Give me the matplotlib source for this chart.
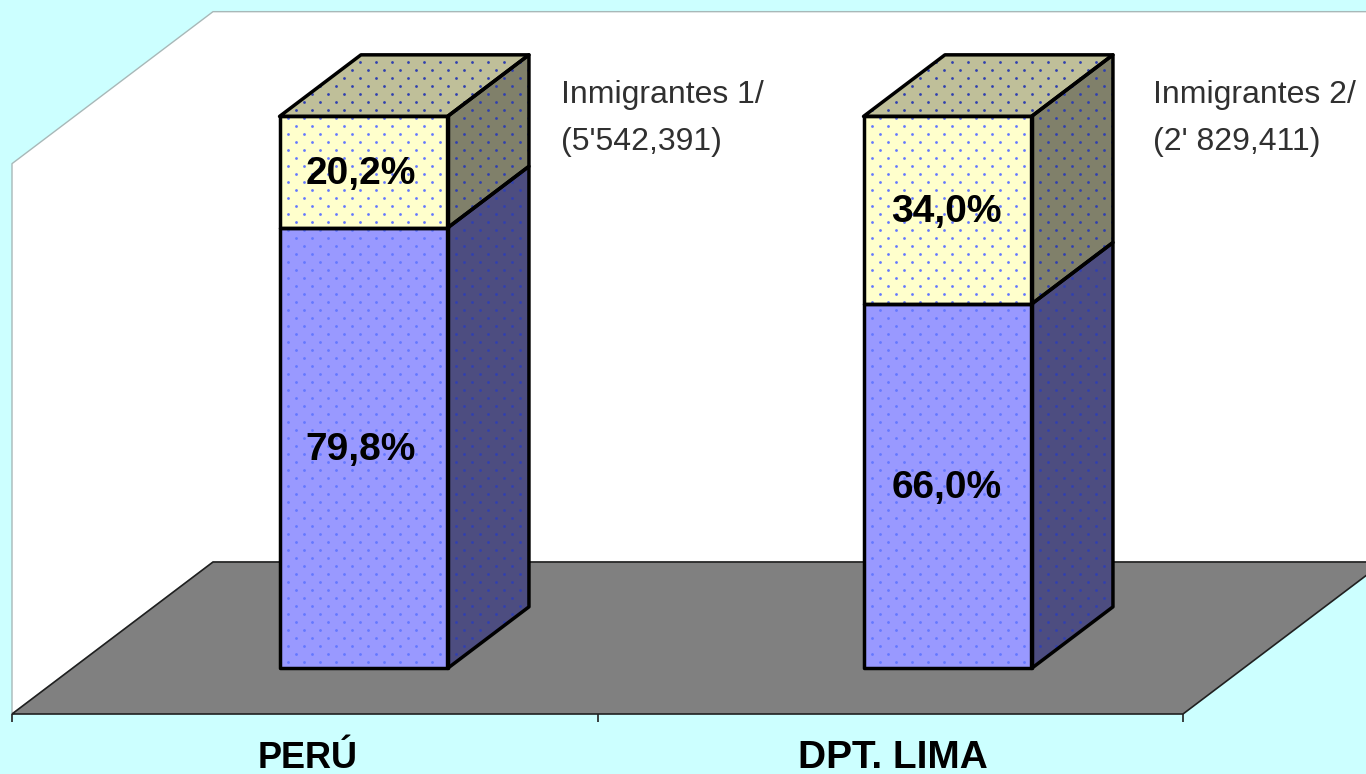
#!/usr/bin/env python
# coding: utf-8

import numpy as np
from matplotlib import pyplot as plt
from matplotlib.patches import Polygon

plt.rcParams['font.family'] = ['Liberation Sans', 'DejaVu Sans']

# Data
categories = ['PERÚ', 'DPT. LIMA']
lower_pct = [79.8, 66.0]
upper_pct = [20.2, 34.0]
lower_labels = ['79,8%', '66,0%']
upper_labels = ['20,2%', '34,0%']
note_lines = [['Inmigrantes 1/', "(5'542,391)"], ['Inmigrantes 2/', "(2' 829,411)"]]

# colours
bg = '#CCFFFF'
floor_col = '#808080'
blue_front, blue_side = '#9999FF', '#4D4D80'
yel_front, yel_side, yel_top = '#FFFFCC', '#80806A', '#BFBF99'

# sizes of the fake 3D box, in pixels of the 1366x774 canvas
W, H = 1366, 774
px_cat = 585.5   # pixels per category
px_pct = 5.52    # pixels per percent
x0_px, y0_px = 12, 714   # front left corner of the floor
depth_dx = 201 / px_cat
depth_dy = 152 / px_pct
bar_w = 168 / px_cat
bar_shift = [-1.5 / px_cat, -3 / px_cat]
d_front, d_back = 0.30, 0.705
cat_sizes = [26, 28]

fig = plt.figure(figsize=(W / 100, H / 100), dpi=100, facecolor=bg)
ax = fig.add_axes([0, 0, 1, 1])
ax.set_xlim(-0.5 - x0_px / px_cat, -0.5 + (W - x0_px) / px_cat)
ax.set_ylim(-(H - y0_px) / px_pct, y0_px / px_pct)
ax.axis('off')


def proj(x, pct, depth):
    return (x + depth * depth_dx, pct + depth * depth_dy)


def face(pts, col, lw=2.5, ec='black', z=3, dots=None):
    p = Polygon(pts, closed=True, fc=col, ec='none', zorder=z)
    ax.add_patch(p)
    if dots is not None:
        # the dotted fill of the original, on a fixed pixel lattice
        gx, gy = np.meshgrid(np.arange(0, W, 16), np.arange(0, H, 8))
        gx = gx + 8 * (np.arange(gy.shape[0])[:, None] % 2)
        sc = ax.scatter(gx.ravel(), gy.ravel(), s=4, c=dots, lw=0,
                        transform=None, zorder=z + 0.1)
        sc.set_clip_path(p)
    ax.add_patch(Polygon(pts, closed=True, fill=False, ec=ec, lw=lw, zorder=z + 0.2,
                         joinstyle='round'))


def box(x, b, t, front, side, top=None, dots=('#6478FF', '#3040B0')):
    xl, xr = x - bar_w / 2, x + bar_w / 2
    face([proj(xr, b, d_front), proj(xr, b, d_back), proj(xr, t, d_back),
          proj(xr, t, d_front)], side, dots=dots[1])
    if top is not None:
        face([proj(xl, t, d_front), proj(xr, t, d_front), proj(xr, t, d_back),
              proj(xl, t, d_back)], top, dots=dots[1])
    face([proj(xl, b, d_front), proj(xr, b, d_front), proj(xr, t, d_front),
          proj(xl, t, d_front)], front, dots=dots[0])


# wall and floor
xa, xb = -0.5, len(categories) - 0.5
top_pct = 99.7
face([proj(xa, 0, 0), proj(xa, top_pct, 0), proj(xa, top_pct, 1), proj(xb, top_pct, 1),
      proj(xb, 0, 1), proj(xa, 0, 1)], 'white', lw=1, ec='#A8B8B8', z=1)
face([proj(xa, 0, 0), proj(xb, 0, 0), proj(xb, 0, 1), proj(xa, 0, 1)],
     floor_col, lw=1.2, ec='#202020', z=2)

# ticks under the floor
for xt in np.arange(xa, xb + 0.1, 1):
    ax.plot([xt, xt], [0, -8 / px_pct], color='#202020', lw=1.2, zorder=2,
            solid_capstyle='butt')

for i in range(len(categories)):
    box(i + bar_shift[i], 0, lower_pct[i], blue_front, blue_side)
    box(i + bar_shift[i], lower_pct[i], 100, yel_front, yel_side, top=yel_top)

    lx, ly = proj(i - 0.007, lower_pct[i] / 2 - 0.4, d_front)
    ax.text(lx, ly, lower_labels[i], ha='center', va='center', fontsize=28,
            fontweight='bold', zorder=5)
    lx, ly = proj(i - 0.007, lower_pct[i] + upper_pct[i] / 2 - 0.3, d_front)
    ax.text(lx, ly, upper_labels[i], ha='center', va='center', fontsize=28,
            fontweight='bold', zorder=5)

    ax.text(i + 0.005, -44 / px_pct, categories[i], ha='center', va='center',
            fontsize=cat_sizes[i], fontweight='bold', zorder=5)

    # notes right of the bars
    nx = i + 0.437 + 0.011 * i
    ax.text(nx, (y0_px - 95) / px_pct, note_lines[i][0], ha='left', va='center',
            fontsize=23, color='#303030', zorder=5)
    ax.text(nx, (y0_px - 142) / px_pct, note_lines[i][1], ha='left', va='center',
            fontsize=23, color='#303030', zorder=5)

fig.savefig('out.png', dpi=100, facecolor=bg)
